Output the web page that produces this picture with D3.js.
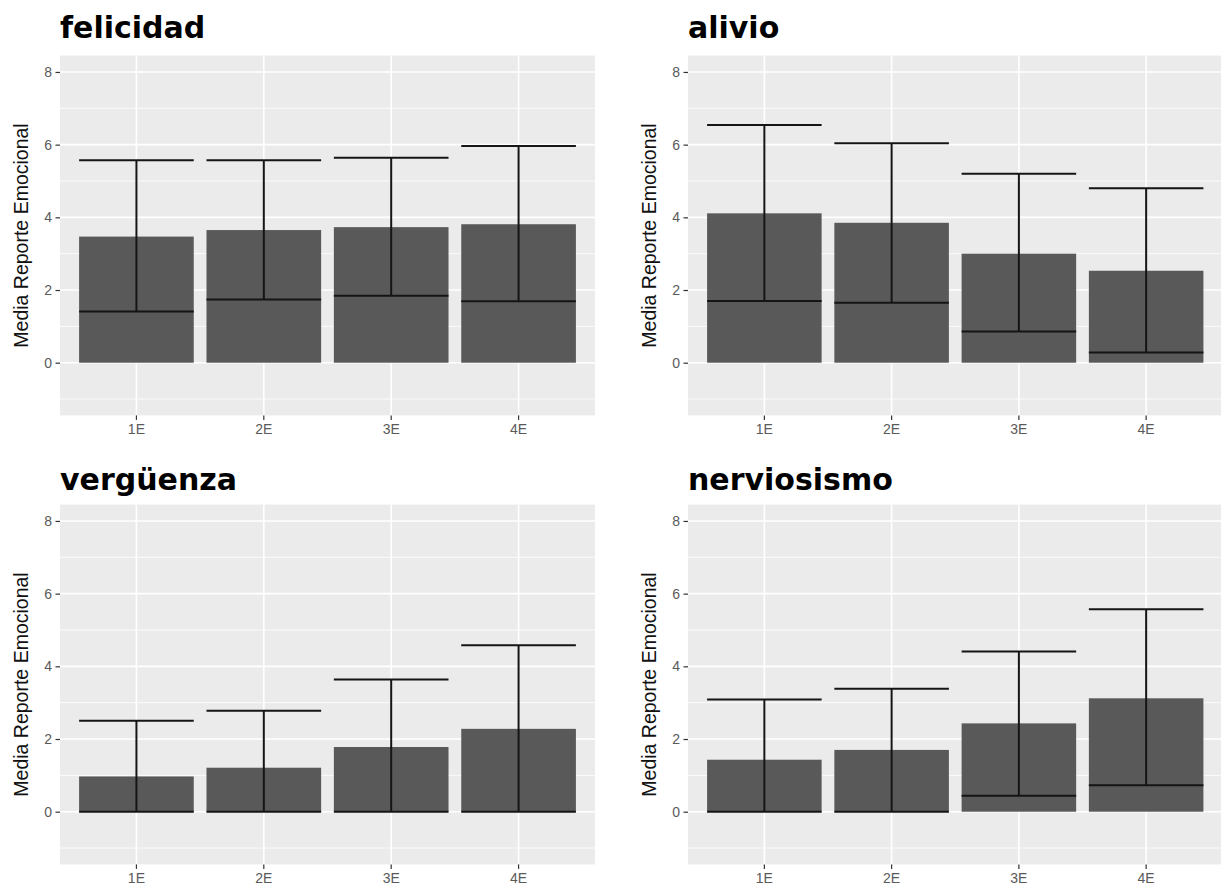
<!DOCTYPE html>
<html>
<head>
<meta charset="utf-8">
<script src="https://cdn.jsdelivr.net/npm/d3@7"></script>
<style>
  body { margin: 0; background: #fff; }
  svg { display: block; }
</style>
</head>
<body>
<div id="chart"></div>
<script>
const categories = ["1E", "2E", "3E", "4E"];
const emotions = ["felicidad", "alivio", "vergüenza", "nerviosismo"];

// media y extremos de la barra de error
const meanFelicidad = [3.47, 3.65, 3.73, 3.81];
const lowFelicidad = [1.41, 1.74, 1.84, 1.69];
const highFelicidad = [5.57, 5.57, 5.64, 5.96];

const meanAlivio = [4.11, 3.85, 3.00, 2.53];
const lowAlivio = [1.70, 1.65, 0.86, 0.28];
const highAlivio = [6.54, 6.04, 5.20, 4.80];

const meanVerguenza = [0.97, 1.21, 1.78, 2.28];
const lowVerguenza = [0, 0, 0, 0];
const highVerguenza = [2.50, 2.78, 3.64, 4.58];

const meanNervios = [1.43, 1.70, 2.43, 3.12];
const lowNervios = [0, 0, 0.44, 0.73];
const highNervios = [3.09, 3.38, 4.41, 5.57];

const yTicks = [0, 2, 4, 6, 8];
const yMinor = [-1, 1, 3, 5, 7];
const yDomain = [-1.45, 8.45];

const series = [
    [meanFelicidad, lowFelicidad, highFelicidad],
    [meanAlivio, lowAlivio, highAlivio],
    [meanVerguenza, lowVerguenza, highVerguenza],
    [meanNervios, lowNervios, highNervios]
];

const width = 1221, height = 890;
const cols = [[60, 595], [688, 1222.5]];
const rows = [[55.6, 415.4], [504.6, 864.4]];
const titleBase = [38, 490];

const svg = d3.select("#chart").append("svg")
    .attr("width", width)
    .attr("height", height);

emotions.forEach((name, i) => {
    const col = cols[i % 2];
    const row = rows[Math.floor(i / 2)];
    const [means, lows, highs] = series[i];
    const data = categories.map((c, j) => ({ cat: c, mean: means[j], lo: lows[j], hi: highs[j] }));

    const x = d3.scaleBand()
        .domain(categories)
        .range(col)
        .paddingInner(0.1)
        .paddingOuter(0.15);
    const y = d3.scaleLinear()
        .domain(yDomain)
        .range([row[1], row[0]]);

    const g = svg.append("g");

    g.append("rect")
        .attr("x", col[0]).attr("y", row[0])
        .attr("width", col[1] - col[0]).attr("height", row[1] - row[0])
        .attr("fill", "#EBEBEB");

    g.selectAll(".minor")
        .data(yMinor)
        .join("line")
        .attr("x1", col[0]).attr("x2", col[1])
        .attr("y1", d => y(d)).attr("y2", d => y(d))
        .attr("stroke", "#fff").attr("stroke-width", 0.8);

    g.selectAll(".major")
        .data(yTicks)
        .join("line")
        .attr("x1", col[0]).attr("x2", col[1])
        .attr("y1", d => y(d)).attr("y2", d => y(d))
        .attr("stroke", "#fff").attr("stroke-width", 1.6);

    g.selectAll(".vgrid")
        .data(categories)
        .join("line")
        .attr("x1", d => x(d) + x.bandwidth() / 2).attr("x2", d => x(d) + x.bandwidth() / 2)
        .attr("y1", row[0]).attr("y2", row[1])
        .attr("stroke", "#fff").attr("stroke-width", 1.6);

    g.selectAll(".bar")
        .data(data)
        .join("rect")
        .attr("x", d => x(d.cat))
        .attr("width", x.bandwidth())
        .attr("y", d => y(d.mean))
        .attr("height", d => y(0) - y(d.mean))
        .attr("fill", "#595959");

    const eb = g.selectAll(".eb")
        .data(data)
        .join("g")
        .attr("stroke", "#151515")
        .attr("stroke-width", 2);
    eb.append("line")
        .attr("x1", d => x(d.cat) + x.bandwidth() / 2).attr("x2", d => x(d.cat) + x.bandwidth() / 2)
        .attr("y1", d => y(d.lo)).attr("y2", d => y(d.hi));
    eb.append("line")
        .attr("x1", d => x(d.cat)).attr("x2", d => x(d.cat) + x.bandwidth())
        .attr("y1", d => y(d.hi)).attr("y2", d => y(d.hi));
    eb.append("line")
        .attr("x1", d => x(d.cat)).attr("x2", d => x(d.cat) + x.bandwidth())
        .attr("y1", d => y(d.lo)).attr("y2", d => y(d.lo));

    const yAxis = g.append("g")
        .attr("transform", `translate(${col[0]},0)`)
        .call(d3.axisLeft(y).tickValues(yTicks).tickSize(4.5).tickPadding(3.5));
    const xAxis = g.append("g")
        .attr("transform", `translate(0,${row[1]})`)
        .call(d3.axisBottom(x).tickSize(4.5).tickPadding(4));

    [yAxis, xAxis].forEach(ax => {
        ax.select(".domain").remove();
        ax.selectAll(".tick line").attr("stroke", "#333").attr("stroke-width", 1.2);
        ax.selectAll(".tick text")
            .attr("fill", "#5a5a5a")
            .style("font-family", "'Liberation Sans', Arial, sans-serif")
            .style("font-size", "14px");
    });

    g.append("text")
        .attr("transform", `translate(${col[0] - 32},${(row[0] + row[1]) / 2}) rotate(-90)`)
        .attr("text-anchor", "middle")
        .style("font-family", "'Liberation Sans', Arial, sans-serif")
        .style("font-size", "19.5px")
        .attr("fill", "#111")
        .text("Media Reporte Emocional");

    g.append("text")
        .attr("x", col[0])
        .attr("y", titleBase[Math.floor(i / 2)])
        .style("font-family", "'DejaVu Sans', sans-serif")
        .style("font-weight", "bold")
        .style("font-size", "30px")
        .attr("fill", "#000")
        .text(name);
});
</script>
</body>
</html>
